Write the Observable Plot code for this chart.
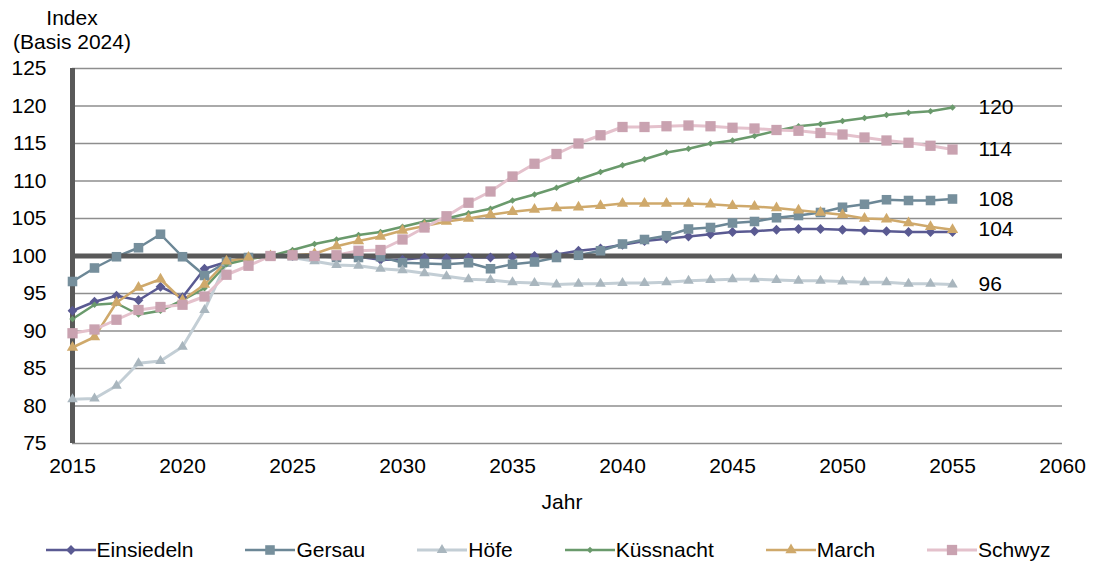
<!DOCTYPE html>
<html>
<head>
<meta charset="utf-8">
<script src="https://cdn.jsdelivr.net/npm/d3@7"></script>
<script src="https://cdn.jsdelivr.net/npm/@observablehq/plot@0.6"></script>
<style>
  body { margin: 0; background: #fff; font-family: "Liberation Sans", Arial, sans-serif; }
  #wrap { position: relative; width: 1096px; height: 562px; overflow: hidden; }
  #chart { position: absolute; left: 0; top: 0; }
  #ylab { position: absolute; left: 0; top: 6px; width: 144px; text-align: center; font-size: 21px; line-height: 24px; color: #000; }
  #xlab { position: absolute; left: 467px; top: 490px; width: 190px; text-align: center; font-size: 21px; line-height: 24px; color: #000; }
  #legend { position: absolute; left: 0; top: 538px; width: 1096px; height: 24px; display: flex; justify-content: center; align-items: center; gap: 52px; font-size: 21px; color: #000; }
  .item { display: flex; align-items: center; white-space: nowrap; }
  .item svg { margin-right: 1px; }
</style>
</head>
<body>
<div id="wrap">
  <div id="chart"></div>
  <div id="ylab">Index<br>(Basis 2024)</div>
  <div id="xlab">Jahr</div>
  <div id="legend"></div>
</div>
<script>
const years = [2015,2016,2017,2018,2019,2020,2021,2022,2023,2024,2025,2026,2027,2028,2029,2030,2031,2032,2033,2034,2035,2036,2037,2038,2039,2040,2041,2042,2043,2044,2045,2046,2047,2048,2049,2050,2051,2052,2053,2054,2055];

const einsiedeln = [92.7,93.9,94.7,94.1,95.9,94.5,98.3,99.2,99.7,100.0,
  100.0,99.9,99.9,99.9,99.5,99.5,99.8,99.7,99.8,99.8,
  99.9,100.0,100.2,100.7,101.0,101.5,102.0,102.3,102.6,102.9,
  103.2,103.3,103.5,103.6,103.6,103.5,103.4,103.3,103.2,103.2,103.2];
const gersau = [96.6,98.4,99.9,101.1,102.9,99.9,97.4,99.2,99.8,100.0,
  100.1,100.0,99.8,99.8,99.9,99.1,99.0,98.9,99.1,98.3,
  98.9,99.2,99.8,100.1,100.7,101.6,102.2,102.7,103.6,103.8,
  104.4,104.6,105.1,105.4,105.8,106.5,106.9,107.5,107.4,107.4,107.6];
const hoefe = [80.9,81.0,82.7,85.7,86.0,87.9,92.8,99.1,99.7,100.0,
  99.8,99.3,98.8,98.7,98.3,98.1,97.7,97.3,96.9,96.8,
  96.5,96.4,96.2,96.3,96.3,96.4,96.4,96.5,96.7,96.8,
  96.9,96.9,96.8,96.7,96.7,96.6,96.5,96.5,96.3,96.3,96.2];
const kuessnacht = [91.6,93.5,93.7,92.2,92.7,94.1,95.7,98.9,99.6,100.0,
  100.8,101.6,102.2,102.8,103.2,103.9,104.6,105.0,105.7,106.3,
  107.4,108.2,109.1,110.2,111.2,112.1,112.9,113.8,114.3,115.0,
  115.4,116.0,116.7,117.3,117.6,118.0,118.4,118.8,119.1,119.3,119.8];
const march = [87.8,89.2,93.8,95.8,96.9,94.1,96.2,99.3,99.8,100.0,
  100.1,100.3,101.3,102.0,102.6,103.4,104.0,104.6,105.0,105.5,
  105.9,106.2,106.4,106.5,106.7,107.0,107.0,107.0,107.0,106.9,
  106.7,106.6,106.4,106.1,105.8,105.5,105.0,104.9,104.4,103.9,103.5];
const schwyz = [89.7,90.2,91.5,92.8,93.2,93.5,94.6,97.5,98.7,100.0,
  100.1,100.0,100.1,100.7,100.8,102.2,103.8,105.3,107.1,108.6,
  110.6,112.3,113.6,115.0,116.1,117.2,117.2,117.3,117.4,117.3,
  117.1,117.0,116.8,116.7,116.4,116.2,115.8,115.4,115.1,114.7,114.2];

const seriesNames = ["Einsiedeln","Gersau","Höfe","Küssnacht","March","Schwyz"];
const seriesValues = [einsiedeln, gersau, hoefe, kuessnacht, march, schwyz];
const endLabelSeries = ["Gersau","Höfe","Küssnacht","March","Schwyz"];

const yTicks = [75,80,85,90,95,100,105,110,115,120,125];
const xTicks = [2015,2020,2025,2030,2035,2040,2045,2050,2055,2060];

// styles (not data)
const styles = {
  "Einsiedeln": {line:"#5a5a92", fill:"#5a5a92", symbol:"diamond2", r:4.4, w:2.5},
  "Gersau":     {line:"#6c8796", fill:"#768f9c", symbol:"square", r:5.4, w:2.5},
  "Höfe":       {line:"#c3ced5", fill:"#a9b6be", symbol:"triangle", r:3.9, w:3},
  "Küssnacht":  {line:"#6a9a6c", fill:"#6a9a6c", symbol:"diamond2", r:2.9, w:2.5},
  "March":      {line:"#cfa96b", fill:"#cfa96b", symbol:"triangle", r:4.2, w:2.5},
  "Schwyz":     {line:"#e4c1cc", fill:"#c9a2b0", symbol:"square", r:5.8, w:3}
};

const tables = seriesNames.map((name, i) =>
  years.map((year, j) => ({series: name, year, value: seriesValues[i][j]})));

const lastPoints = tables
  .filter(t => endLabelSeries.includes(t[0].series))
  .map(t => t[t.length - 1]);

const marks = [
  Plot.ruleY(yTicks.filter(v => v !== 100), {stroke: "#8e8e8e", strokeWidth: 1.6}),
  Plot.axisY({ticks: yTicks, tickSize: 0, tickPadding: 26, label: null, tickFormat: d => String(d)}),
  Plot.axisX({ticks: xTicks, tickSize: 0, tickPadding: 15, label: null, tickFormat: d => String(d)}),
];
tables.forEach(t => {
  const s = styles[t[0].series];
  marks.push(Plot.line(t, {x: "year", y: "value", stroke: s.line, strokeWidth: s.w}));
});
marks.push(Plot.ruleY([100], {stroke: "#595959", strokeWidth: 5}));
marks.push(Plot.ruleX([2015], {stroke: "#595959", strokeWidth: 5}));
tables.forEach(t => {
  const s = styles[t[0].series];
  marks.push(Plot.dot(t, {x: "year", y: "value", symbol: s.symbol, fill: s.fill, stroke: "none", r: s.r}));
});
marks.push(Plot.text(lastPoints, {x: "year", y: "value", text: d => String(Math.round(d.value)), dx: 26, textAnchor: "start", fill: "#000", fontSize: 21}));

const chart = Plot.plot({
  width: 1096,
  height: 530,
  marginTop: 68,
  marginBottom: 87,
  marginLeft: 72,
  marginRight: 34,
  style: {fontSize: "21px", fontFamily: "'Liberation Sans', Arial, sans-serif", color: "#000", background: "#fff"},
  x: {domain: [2015, 2060]},
  y: {domain: [75, 125]},
  marks
});
document.getElementById("chart").appendChild(chart);

// legend
const legend = document.getElementById("legend");
function swatch(s) {
  const ns = "http://www.w3.org/2000/svg";
  const svg = document.createElementNS(ns, "svg");
  svg.setAttribute("width", 50); svg.setAttribute("height", 20);
  const line = document.createElementNS(ns, "line");
  line.setAttribute("x1", 0); line.setAttribute("x2", 50);
  line.setAttribute("y1", 10); line.setAttribute("y2", 10);
  line.setAttribute("stroke", s.line); line.setAttribute("stroke-width", s.w);
  svg.appendChild(line);
  const sym = {diamond2: d3.symbolDiamond2, square: d3.symbolSquare, triangle: d3.symbolTriangle}[s.symbol];
  const path = document.createElementNS(ns, "path");
  path.setAttribute("d", d3.symbol(sym, s.r * s.r * Math.PI)());
  path.setAttribute("transform", "translate(25,10)");
  path.setAttribute("fill", s.fill);
  svg.appendChild(path);
  return svg;
}
seriesNames.forEach(name => {
  const item = document.createElement("div");
  item.className = "item";
  item.appendChild(swatch(styles[name]));
  const span = document.createElement("span");
  span.textContent = name;
  item.appendChild(span);
  legend.appendChild(item);
});
</script>
</body>
</html>
